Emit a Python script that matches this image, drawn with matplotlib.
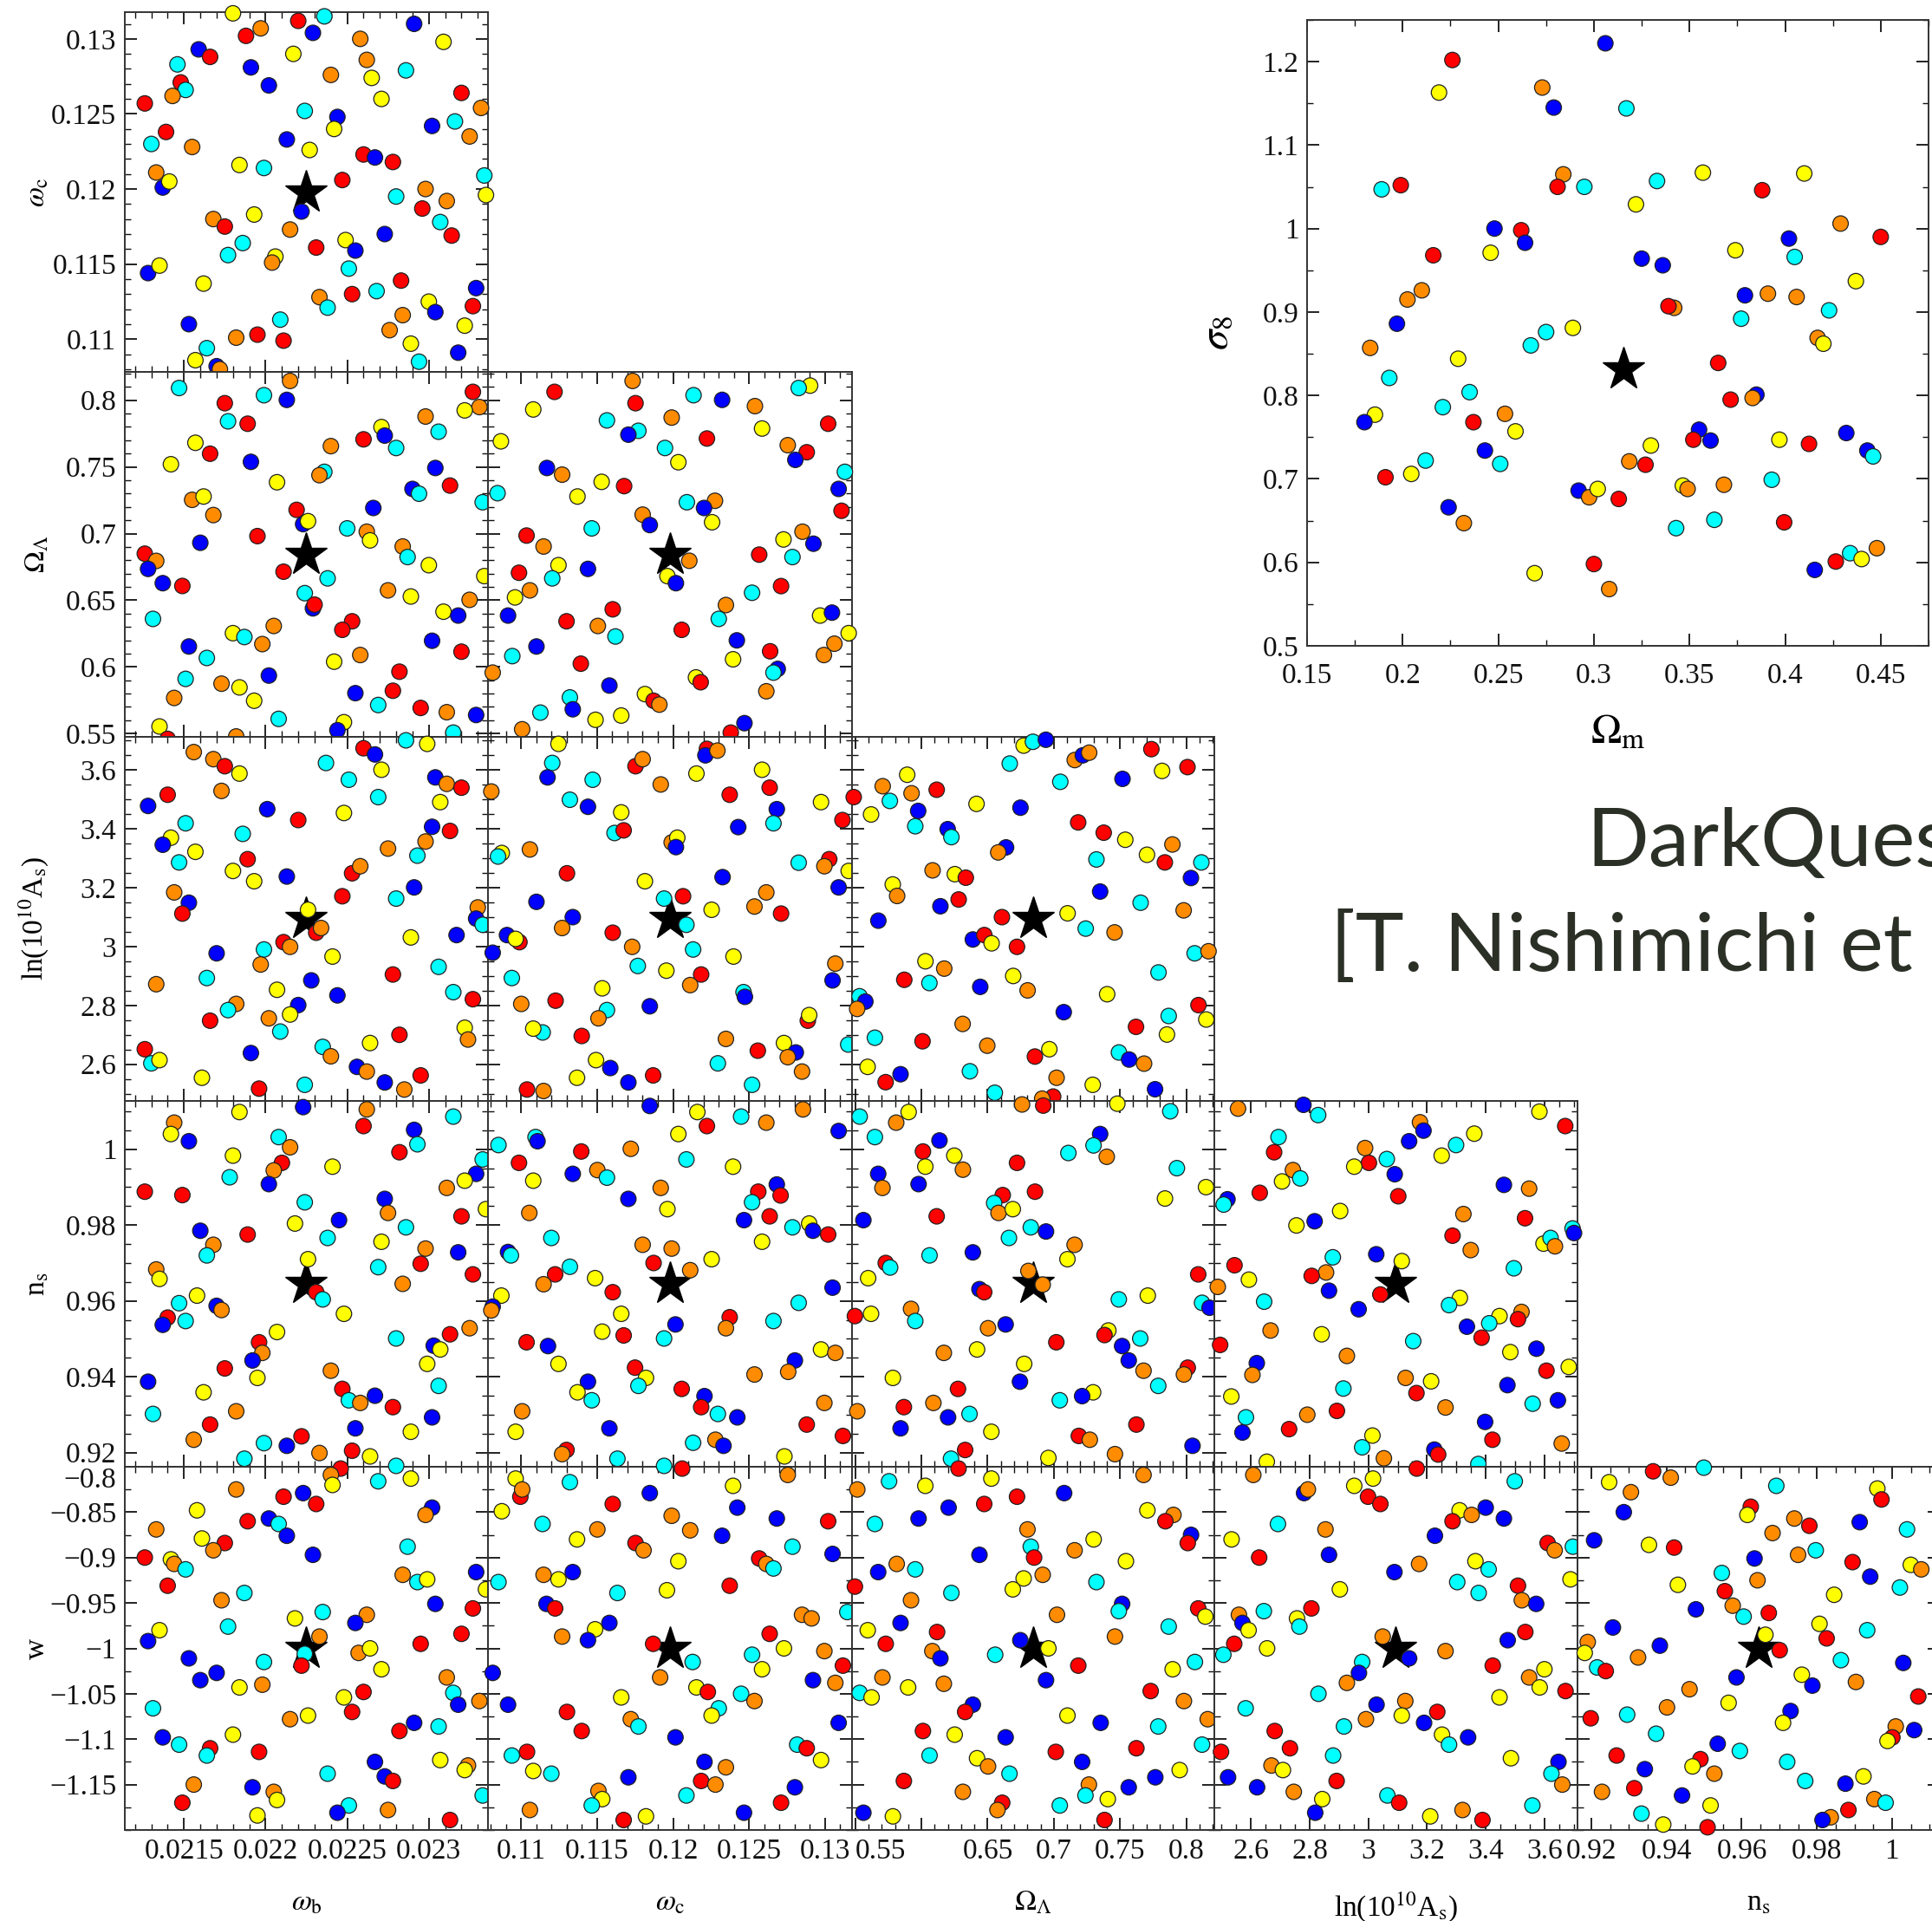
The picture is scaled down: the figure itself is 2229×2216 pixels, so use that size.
import matplotlib
matplotlib.use('Agg')
import matplotlib.pyplot as plt
from matplotlib.ticker import MultipleLocator

plt.rcParams['font.family'] = ['Liberation Serif', 'DejaVu Serif']
plt.rcParams['mathtext.fontset'] = 'stix'

# colour codes of the design points
colors = {'r': '#ff0000', 'o': '#ff8c00', 'y': '#ffff00', 'c': '#00ffff', 'b': '#0000ff'}

# parameter ranges of the sampling box, fiducial cosmology
ranges = {'wb': (0.0211375, 0.0233625), 'wc': (0.10782, 0.13178),
          'ol': (0.54752, 0.82128), 'las': (2.4752, 3.7128),
          'ns': (0.916275, 1.012725), 'w': (-1.2, -0.8)}
fiducial = {'wb': 0.02225, 'wc': 0.1198, 'ol': 0.6844, 'las': 3.094, 'ns': 0.9645, 'w': -1.0}
fid_om_s8 = (0.3156, 0.831)

names = {'wb': r'$\omega_{\rm b}$', 'wc': r'$\omega_{\rm c}$', 'ol': r'$\Omega_\Lambda$',
         'las': r'ln(10$^{10}$A$_{\rm s}$)', 'ns': r'n$_{\rm s}$', 'w': 'w'}
ticks = {'wb': [0.0215, 0.022, 0.0225, 0.023],
         'wc': [0.11, 0.115, 0.12, 0.125, 0.13],
         'ol': [0.55, 0.6, 0.65, 0.7, 0.75, 0.8],
         'las': [2.6, 2.8, 3.0, 3.2, 3.4, 3.6],
         'ns': [0.92, 0.94, 0.96, 0.98, 1.0],
         'w': [-1.15, -1.1, -1.05, -1.0, -0.95, -0.9, -0.85, -0.8]}
tick_labels = {'wb': ['0.0215', '0.022', '0.0225', '0.023'],
               'wc': ['0.11', '0.115', '0.12', '0.125', '0.13'],
               'ol': ['0.55', '0.6', '0.65', '0.7', '0.75', '0.8'],
               'las': ['2.6', '2.8', '3', '3.2', '3.4', '3.6'],
               'ns': ['0.92', '0.94', '0.96', '0.98', '1'],
               'w': ['\u22121.15', '\u22121.1', '\u22121.05', '\u22121', '\u22120.95',
                     '\u22120.9', '\u22120.85', '\u22120.8']}
bottom_labels_ol = ['0.55', '', '0.65', '0.7', '0.75', '0.8']
minor = {'wb': 0.0001, 'wc': 0.001, 'ol': 0.01, 'las': 0.05, 'ns': 0.005, 'w': 0.025}

# ---- design points per panel, (x, y, colour) ----
wb_wc = [
    (0.02180, 0.1317, 'y'), (0.02220, 0.1312, 'r'), (0.02236, 0.1315, 'c'), (0.02229, 0.1304, 'b'),
    (0.02197, 0.1307, 'o'), (0.02188, 0.1302, 'r'), (0.02291, 0.1310, 'b'), (0.02258, 0.1300, 'o'),
    (0.02309, 0.1298, 'y'), (0.02159, 0.1293, 'b'), (0.02166, 0.1288, 'r'), (0.02146, 0.1283, 'c'),
    (0.02217, 0.1290, 'y'), (0.02191, 0.1281, 'b'), (0.02262, 0.1286, 'o'), (0.02286, 0.1279, 'c'),
    (0.02240, 0.1276, 'o'), (0.02265, 0.1274, 'y'), (0.02148, 0.1271, 'r'), (0.02151, 0.1266, 'c'),
    (0.02143, 0.1262, 'o'), (0.02202, 0.1269, 'b'), (0.02271, 0.1260, 'y'), (0.02320, 0.1264, 'r'),
    (0.02126, 0.1257, 'r'), (0.02332, 0.1254, 'o'), (0.02224, 0.1252, 'c'), (0.02244, 0.1248, 'b'),
    (0.02242, 0.1240, 'y'), (0.02302, 0.1242, 'b'), (0.02316, 0.1245, 'c'), (0.02325, 0.1235, 'o'),
    (0.02139, 0.1238, 'r'), (0.02130, 0.1230, 'c'), (0.02155, 0.1228, 'o'), (0.02213, 0.1233, 'b'),
    (0.02227, 0.1226, 'y'), (0.02260, 0.1223, 'r'), (0.02267, 0.1221, 'b'), (0.02278, 0.1218, 'r'),
    (0.02184, 0.1216, 'y'), (0.02199, 0.1214, 'c'), (0.02133, 0.1211, 'o'), (0.02137, 0.1201, 'b'),
    (0.02141, 0.1205, 'y'), (0.02247, 0.1206, 'r'), (0.02334, 0.1209, 'c'), (0.02335, 0.1196, 'y'),
    (0.02280, 0.1195, 'c'), (0.02298, 0.1200, 'o'), (0.02311, 0.1192, 'o'), (0.02296, 0.1187, 'r'),
    (0.02222, 0.1185, 'b'), (0.02168, 0.1180, 'o'), (0.02175, 0.1175, 'r'), (0.02193, 0.1183, 'y'),
    (0.02215, 0.1173, 'o'), (0.02307, 0.1178, 'c'), (0.02314, 0.1169, 'r'), (0.02273, 0.1170, 'b'),
    (0.02186, 0.1164, 'c'), (0.02177, 0.1156, 'c'), (0.02231, 0.1161, 'r'), (0.02249, 0.1166, 'y'),
    (0.02255, 0.1159, 'b'), (0.02206, 0.1155, 'y'), (0.02204, 0.1151, 'o'), (0.02251, 0.1147, 'c'),
    (0.02128, 0.1144, 'b'), (0.02135, 0.1149, 'y'), (0.02162, 0.1137, 'y'), (0.02283, 0.1139, 'r'),
    (0.02268, 0.1132, 'c'), (0.02233, 0.1128, 'o'), (0.02238, 0.1121, 'c'), (0.02253, 0.1130, 'r'),
    (0.02329, 0.1134, 'b'), (0.02300, 0.1125, 'y'), (0.02304, 0.1118, 'b'), (0.02327, 0.1122, 'r'),
    (0.02284, 0.1116, 'o'), (0.02153, 0.1110, 'b'), (0.02209, 0.1113, 'c'), (0.02276, 0.1106, 'o'),
    (0.02322, 0.1109, 'y'), (0.02182, 0.1101, 'o'), (0.02195, 0.1103, 'r'), (0.02211, 0.1099, 'r'),
    (0.02289, 0.1097, 'y'), (0.02318, 0.1091, 'b'), (0.02164, 0.1094, 'c'), (0.02157, 0.1086, 'y'),
    (0.02294, 0.1085, 'c'), (0.02170, 0.1082, 'b'), (0.02172, 0.1080, 'o'),
]

wb_ol = [
    (0.02147, 0.8092, 'c'), (0.02215, 0.8145, 'o'), (0.02199, 0.8038, 'c'), (0.02213, 0.8003, 'b'),
    (0.02175, 0.7978, 'r'), (0.02177, 0.7842, 'c'), (0.02189, 0.7824, 'r'), (0.02327, 0.8063, 'r'),
    (0.02331, 0.7949, 'o'), (0.02322, 0.7924, 'y'), (0.02298, 0.7878, 'o'), (0.02306, 0.7764, 'c'),
    (0.02271, 0.7799, 'y'), (0.02273, 0.7735, 'b'), (0.02260, 0.7707, 'r'), (0.02280, 0.7642, 'c'),
    (0.02157, 0.7681, 'y'), (0.02240, 0.7656, 'o'), (0.02166, 0.7599, 'r'), (0.02191, 0.7538, 'b'),
    (0.02142, 0.7520, 'y'), (0.02236, 0.7463, 'c'), (0.02233, 0.7438, 'o'), (0.02304, 0.7492, 'b'),
    (0.02207, 0.7385, 'y'), (0.02313, 0.7360, 'r'), (0.02290, 0.7335, 'b'), (0.02294, 0.7299, 'c'),
    (0.02155, 0.7253, 'o'), (0.02162, 0.7278, 'y'), (0.02333, 0.7235, 'c'), (0.02168, 0.7139, 'o'),
    (0.02266, 0.7192, 'b'), (0.02219, 0.7178, 'r'), (0.02223, 0.7071, 'b'), (0.02226, 0.7093, 'y'),
    (0.02250, 0.7039, 'c'), (0.02262, 0.7014, 'o'), (0.02264, 0.6949, 'y'), (0.02195, 0.6981, 'r'),
    (0.02160, 0.6931, 'b'), (0.02284, 0.6903, 'o'), (0.02287, 0.6824, 'c'), (0.02126, 0.6849, 'r'),
    (0.02133, 0.6795, 'o'), (0.02128, 0.6735, 'b'), (0.02137, 0.6628, 'b'), (0.02149, 0.6607, 'r'),
    (0.02211, 0.6714, 'r'), (0.02238, 0.6664, 'c'), (0.02300, 0.6763, 'y'), (0.02334, 0.6681, 'y'),
    (0.02224, 0.6553, 'c'), (0.02275, 0.6574, 'o'), (0.02289, 0.6528, 'y'), (0.02229, 0.6439, 'b'),
    (0.02230, 0.6467, 'r'), (0.02325, 0.6503, 'o'), (0.02309, 0.6414, 'y'), (0.02318, 0.6385, 'b'),
    (0.02131, 0.6360, 'c'), (0.02253, 0.6342, 'r'), (0.02247, 0.6278, 'r'), (0.02205, 0.6307, 'o'),
    (0.02180, 0.6253, 'y'), (0.02187, 0.6224, 'c'), (0.02198, 0.6171, 'o'), (0.02153, 0.6153, 'b'),
    (0.02164, 0.6067, 'c'), (0.02302, 0.6196, 'b'), (0.02320, 0.6114, 'r'), (0.02258, 0.6089, 'o'),
    (0.02242, 0.6039, 'y'), (0.02282, 0.5964, 'r'), (0.02202, 0.5935, 'b'), (0.02151, 0.5910, 'c'),
    (0.02173, 0.5874, 'o'), (0.02184, 0.5846, 'y'), (0.02278, 0.5821, 'r'), (0.02255, 0.5803, 'b'),
    (0.02144, 0.5767, 'o'), (0.02193, 0.5746, 'y'), (0.02269, 0.5714, 'c'), (0.02295, 0.5692, 'r'),
    (0.02311, 0.5660, 'o'), (0.02329, 0.5639, 'b'), (0.02208, 0.5610, 'c'), (0.02248, 0.5585, 'y'),
    (0.02244, 0.5525, 'b'), (0.02135, 0.5553, 'y'), (0.02140, 0.5460, 'r'), (0.02182, 0.5478, 'o'),
    (0.02315, 0.5507, 'c'),
]

wc_ol = [
    (0.11734, 0.8145, 'o'), (0.12902, 0.8110, 'y'), (0.12827, 0.8092, 'c'), (0.11220, 0.8063, 'r'),
    (0.12135, 0.8038, 'c'), (0.12323, 0.8003, 'b'), (0.11753, 0.7978, 'r'), (0.12539, 0.7956, 'o'),
    (0.11080, 0.7931, 'y'), (0.13021, 0.7824, 'r'), (0.11565, 0.7849, 'c'), (0.11991, 0.7870, 'o'),
    (0.11772, 0.7771, 'c'), (0.11706, 0.7742, 'b'), (0.12586, 0.7788, 'y'), (0.12223, 0.7713, 'r'),
    (0.10867, 0.7692, 'y'), (0.11947, 0.7642, 'c'), (0.12755, 0.7663, 'o'), (0.12880, 0.7610, 'r'),
    (0.12805, 0.7553, 'b'), (0.12035, 0.7535, 'y'), (0.11170, 0.7492, 'b'), (0.11270, 0.7442, 'o'),
    (0.13131, 0.7463, 'c'), (0.11530, 0.7388, 'y'), (0.11678, 0.7356, 'r'), (0.13090, 0.7335, 'b'),
    (0.10845, 0.7303, 'c'), (0.11371, 0.7278, 'y'), (0.12276, 0.7246, 'o'), (0.12091, 0.7235, 'c'),
    (0.12204, 0.7192, 'b'), (0.13109, 0.7171, 'r'), (0.11800, 0.7142, 'o'), (0.12257, 0.7085, 'y'),
    (0.11847, 0.7064, 'b'), (0.11465, 0.7039, 'c'), (0.12852, 0.7014, 'o'), (0.11036, 0.6985, 'r'),
    (0.12727, 0.6956, 'y'), (0.12924, 0.6924, 'b'), (0.11148, 0.6903, 'o'), (0.12567, 0.6842, 'r'),
    (0.12786, 0.6824, 'c'), (0.12107, 0.6796, 'o'), (0.11246, 0.6763, 'y'), (0.11440, 0.6735, 'b'),
    (0.10986, 0.6706, 'r'), (0.11963, 0.6681, 'y'), (0.12019, 0.6628, 'b'), (0.11205, 0.6664, 'c'),
    (0.11058, 0.6574, 'o'), (0.12711, 0.6606, 'r'), (0.12520, 0.6556, 'c'), (0.10960, 0.6521, 'y'),
    (0.12348, 0.6464, 'o'), (0.11603, 0.6432, 'r'), (0.12968, 0.6385, 'y'), (0.13046, 0.6407, 'b'),
    (0.10914, 0.6385, 'b'), (0.12301, 0.6360, 'c'), (0.11299, 0.6342, 'r'), (0.11505, 0.6307, 'o'),
    (0.12057, 0.6278, 'r'), (0.11621, 0.6228, 'c'), (0.12420, 0.6199, 'b'), (0.13156, 0.6253, 'y'),
    (0.13062, 0.6174, 'o'), (0.11101, 0.6153, 'b'), (0.12639, 0.6117, 'r'), (0.12993, 0.6089, 'o'),
    (0.10942, 0.6081, 'c'), (0.12395, 0.6057, 'y'), (0.11393, 0.6024, 'r'), (0.12689, 0.5985, 'b'),
    (0.12661, 0.5957, 'c'), (0.10813, 0.5957, 'o'), (0.12151, 0.5921, 'y'), (0.12182, 0.5885, 'r'),
    (0.11581, 0.5860, 'b'), (0.12614, 0.5817, 'o'), (0.11815, 0.5796, 'y'), (0.11872, 0.5746, 'r'),
    (0.11910, 0.5717, 'o'), (0.11321, 0.5771, 'c'), (0.11340, 0.5682, 'b'), (0.11127, 0.5657, 'c'),
    (0.11659, 0.5635, 'y'), (0.11490, 0.5603, 'y'), (0.12470, 0.5578, 'b'), (0.11007, 0.5532, 'o'),
    (0.12380, 0.5507, 'r'),
]

wb_las = [
    (0.02156, 3.661, 'o'), (0.02168, 3.637, 'o'), (0.02175, 3.613, 'r'), (0.02184, 3.588, 'y'),
    (0.02237, 3.624, 'c'), (0.02260, 3.674, 'r'), (0.02267, 3.653, 'b'), (0.02271, 3.601, 'y'),
    (0.02286, 3.701, 'c'), (0.02299, 3.689, 'y'), (0.02251, 3.567, 'c'), (0.02304, 3.575, 'b'),
    (0.02311, 3.553, 'o'), (0.02320, 3.540, 'r'), (0.02307, 3.491, 'y'), (0.02173, 3.529, 'o'),
    (0.02140, 3.516, 'r'), (0.02128, 3.478, 'b'), (0.02269, 3.508, 'c'), (0.02201, 3.467, 'b'),
    (0.02248, 3.454, 'y'), (0.02220, 3.430, 'r'), (0.02151, 3.419, 'c'), (0.02302, 3.407, 'b'),
    (0.02313, 3.393, 'r'), (0.02186, 3.383, 'c'), (0.02142, 3.370, 'y'), (0.02137, 3.346, 'b'),
    (0.02157, 3.322, 'y'), (0.02275, 3.333, 'o'), (0.02298, 3.357, 'o'), (0.02293, 3.309, 'c'),
    (0.02189, 3.297, 'r'), (0.02147, 3.286, 'c'), (0.02180, 3.257, 'y'), (0.02253, 3.249, 'r'),
    (0.02258, 3.273, 'o'), (0.02213, 3.238, 'b'), (0.02193, 3.222, 'y'), (0.02291, 3.201, 'b'),
    (0.02144, 3.184, 'o'), (0.02247, 3.171, 'r'), (0.02280, 3.163, 'c'), (0.02153, 3.149, 'b'),
    (0.02149, 3.112, 'r'), (0.02330, 3.133, 'o'), (0.02329, 3.095, 'b'), (0.02333, 3.074, 'c'),
    (0.02231, 3.047, 'r'), (0.02234, 3.063, 'o'), (0.02211, 3.015, 'r'), (0.02215, 2.999, 'o'),
    (0.02289, 3.031, 'y'), (0.02317, 3.039, 'b'), (0.02170, 2.977, 'b'), (0.02199, 2.990, 'c'),
    (0.02241, 2.966, 'y'), (0.02197, 2.939, 'o'), (0.02306, 2.931, 'c'), (0.02133, 2.872, 'o'),
    (0.02164, 2.893, 'c'), (0.02278, 2.905, 'r'), (0.02228, 2.885, 'b'), (0.02207, 2.853, 'y'),
    (0.02315, 2.845, 'c'), (0.02244, 2.834, 'b'), (0.02327, 2.821, 'r'), (0.02182, 2.805, 'o'),
    (0.02177, 2.784, 'c'), (0.02220, 2.801, 'b'), (0.02215, 2.769, 'y'), (0.02202, 2.756, 'o'),
    (0.02166, 2.748, 'r'), (0.02209, 2.711, 'c'), (0.02282, 2.700, 'r'), (0.02322, 2.724, 'y'),
    (0.02324, 2.684, 'o'), (0.02235, 2.659, 'c'), (0.02240, 2.627, 'o'), (0.02264, 2.672, 'y'),
    (0.02126, 2.651, 'r'), (0.02130, 2.603, 'c'), (0.02135, 2.614, 'y'), (0.02191, 2.638, 'b'),
    (0.02256, 2.591, 'b'), (0.02262, 2.575, 'o'), (0.02273, 2.538, 'b'), (0.02295, 2.562, 'r'),
    (0.02285, 2.514, 'o'), (0.02161, 2.554, 'y'), (0.02196, 2.517, 'r'), (0.02224, 2.530, 'c'),
    (0.02226, 3.125, 'y'),
]

wc_las = [
    (0.11246, 3.689, 'y'), (0.11205, 3.624, 'c'), (0.11174, 3.575, 'b'), (0.11753, 3.613, 'r'),
    (0.11800, 3.637, 'o'), (0.11471, 3.567, 'c'), (0.11919, 3.551, 'o'), (0.12154, 3.588, 'y'),
    (0.12223, 3.672, 'r'), (0.12213, 3.650, 'b'), (0.12292, 3.666, 'o'), (0.12586, 3.601, 'y'),
    (0.12636, 3.540, 'r'), (0.12373, 3.516, 'r'), (0.10804, 3.527, 'o'), (0.11321, 3.499, 'c'),
    (0.11440, 3.475, 'b'), (0.11659, 3.456, 'y'), (0.11615, 3.386, 'c'), (0.11675, 3.395, 'r'),
    (0.12683, 3.467, 'b'), (0.12661, 3.419, 'c'), (0.12974, 3.491, 'y'), (0.13115, 3.430, 'r'),
    (0.12429, 3.406, 'b'), (0.11991, 3.354, 'o'), (0.12028, 3.370, 'y'), (0.12019, 3.338, 'b'),
    (0.11058, 3.330, 'o'), (0.10873, 3.318, 'y'), (0.10848, 3.306, 'c'), (0.13028, 3.297, 'r'),
    (0.12996, 3.273, 'o'), (0.13156, 3.257, 'y'), (0.12827, 3.285, 'c'), (0.11302, 3.249, 'r'),
    (0.12326, 3.236, 'b'), (0.11815, 3.222, 'y'), (0.12614, 3.184, 'o'), (0.13090, 3.201, 'b'),
    (0.11101, 3.152, 'b'), (0.11941, 3.163, 'c'), (0.12066, 3.171, 'r'), (0.12254, 3.125, 'y'),
    (0.12536, 3.136, 'o'), (0.12711, 3.112, 'r'), (0.11340, 3.100, 'b'), (0.12088, 3.074, 'c'),
    (0.11270, 3.063, 'o'), (0.10907, 3.039, 'b'), (0.10989, 3.015, 'r'), (0.10964, 3.026, 'y'),
    (0.11603, 3.047, 'r'), (0.11731, 2.999, 'o'), (0.12132, 2.990, 'c'), (0.12398, 2.966, 'y'),
    (0.13068, 2.942, 'o'), (0.12185, 2.905, 'r'), (0.12113, 2.869, 'o'), (0.11768, 2.934, 'c'),
    (0.11956, 2.918, 'y'), (0.13050, 2.885, 'b'), (0.10939, 2.893, 'c'), (0.10813, 2.979, 'b'),
    (0.11534, 2.858, 'y'), (0.12464, 2.845, 'c'), (0.12473, 2.829, 'b'), (0.11001, 2.805, 'o'),
    (0.11227, 2.816, 'r'), (0.11565, 2.784, 'c'), (0.11509, 2.756, 'o'), (0.11847, 2.797, 'b'),
    (0.12887, 2.748, 'r'), (0.12896, 2.767, 'y'), (0.11142, 2.708, 'c'), (0.11080, 2.721, 'y'),
    (0.11399, 2.696, 'r'), (0.12348, 2.686, 'o'), (0.13153, 2.667, 'c'), (0.12730, 2.672, 'y'),
    (0.12808, 2.640, 'b'), (0.12558, 2.646, 'r'), (0.12755, 2.624, 'o'), (0.11493, 2.614, 'y'),
    (0.11587, 2.587, 'b'), (0.12295, 2.603, 'c'), (0.12849, 2.575, 'o'), (0.11368, 2.554, 'y'),
    (0.11869, 2.562, 'r'), (0.11706, 2.538, 'b'), (0.11039, 2.514, 'r'), (0.11148, 2.509, 'o'),
    (0.12520, 2.530, 'c'),
]

ol_las = [
    (0.6772, 3.683, 'y'), (0.6842, 3.696, 'c'), (0.6940, 3.703, 'b'), (0.6667, 3.622, 'c'),
    (0.7158, 3.634, 'o'), (0.7219, 3.650, 'b'), (0.7267, 3.659, 'o'), (0.7737, 3.671, 'r'),
    (0.7818, 3.597, 'y'), (0.8010, 3.610, 'r'), (0.7049, 3.560, 'c'), (0.7519, 3.570, 'b'),
    (0.5892, 3.584, 'y'), (0.5707, 3.545, 'o'), (0.6115, 3.533, 'r'), (0.5925, 3.521, 'o'),
    (0.5761, 3.495, 'c'), (0.5488, 3.508, 'r'), (0.6416, 3.485, 'y'), (0.6748, 3.472, 'b'),
    (0.5975, 3.461, 'b'), (0.5619, 3.449, 'y'), (0.5953, 3.409, 'c'), (0.7184, 3.422, 'r'),
    (0.7377, 3.387, 'r'), (0.7540, 3.363, 'y'), (0.6198, 3.399, 'b'), (0.6226, 3.372, 'c'),
    (0.6639, 3.337, 'b'), (0.6580, 3.320, 'o'), (0.7896, 3.347, 'o'), (0.7704, 3.312, 'y'),
    (0.7839, 3.286, 'r'), (0.7322, 3.296, 'c'), (0.8115, 3.286, 'c'), (0.8036, 3.233, 'b'),
    (0.6084, 3.259, 'o'), (0.6252, 3.246, 'y'), (0.6335, 3.234, 'r'), (0.5783, 3.211, 'y'),
    (0.5816, 3.172, 'o'), (0.7350, 3.187, 'b'), (0.7656, 3.149, 'c'), (0.7981, 3.123, 'o'),
    (0.6143, 3.137, 'b'), (0.6281, 3.160, 'r'), (0.6608, 3.100, 'r'), (0.7104, 3.113, 'y'),
    (0.7241, 3.061, 'c'), (0.7459, 3.048, 'o'), (0.5674, 3.088, 'b'), (0.6388, 3.024, 'b'),
    (0.6475, 3.039, 'r'), (0.6530, 3.011, 'y'), (0.6722, 2.999, 'r'), (0.8064, 2.977, 'c'),
    (0.8169, 2.984, 'o'), (0.6030, 2.950, 'y'), (0.6172, 2.925, 'o'), (0.7791, 2.912, 'c'),
    (0.5870, 2.887, 'r'), (0.6060, 2.876, 'c'), (0.6693, 2.900, 'y'), (0.6444, 2.863, 'b'),
    (0.6802, 2.851, 'o'), (0.7403, 2.838, 'y'), (0.5532, 2.831, 'c'), (0.5576, 2.813, 'b'),
    (0.5514, 2.788, 'o'), (0.8093, 2.801, 'r'), (0.7075, 2.777, 'b'), (0.8152, 2.752, 'y'),
    (0.7868, 2.764, 'c'), (0.7621, 2.727, 'r'), (0.6311, 2.737, 'o'), (0.7855, 2.701, 'y'),
    (0.5648, 2.690, 'c'), (0.6008, 2.678, 'r'), (0.6497, 2.663, 'o'), (0.6857, 2.626, 'r'),
    (0.6966, 2.651, 'y'), (0.7492, 2.640, 'c'), (0.7569, 2.616, 'b'), (0.7682, 2.602, 'o'),
    (0.5593, 2.591, 'y'), (0.5842, 2.566, 'b'), (0.5729, 2.539, 'r'), (0.6366, 2.576, 'c'),
    (0.7021, 2.554, 'o'), (0.7294, 2.530, 'y'), (0.7765, 2.515, 'b'), (0.6554, 2.503, 'c'),
    (0.6995, 2.490, 'r'), (0.6912, 2.483, 'o'),
]

wb_ns = [
    (0.02184, 1.0098, 'y'), (0.02144, 1.0070, 'o'), (0.02142, 1.0040, 'y'), (0.02153, 1.0021, 'b'),
    (0.02223, 1.0111, 'b'), (0.02262, 1.0105, 'o'), (0.02315, 1.0086, 'c'), (0.02260, 1.0061, 'r'),
    (0.02291, 1.0051, 'b'), (0.02293, 1.0013, 'c'), (0.02208, 1.0032, 'c'), (0.02215, 1.0005, 'o'),
    (0.02282, 0.9992, 'r'), (0.02180, 0.9983, 'y'), (0.02333, 0.9973, 'c'), (0.02210, 0.9964, 'r'),
    (0.02241, 0.9954, 'y'), (0.02205, 0.9944, 'o'), (0.02329, 0.9935, 'b'), (0.02178, 0.9926, 'c'),
    (0.02322, 0.9917, 'y'), (0.02202, 0.9908, 'b'), (0.02311, 0.9898, 'o'), (0.02126, 0.9888, 'r'),
    (0.02149, 0.9879, 'r'), (0.02273, 0.9869, 'b'), (0.02224, 0.9860, 'c'), (0.02275, 0.9832, 'o'),
    (0.02335, 0.9842, 'y'), (0.02320, 0.9823, 'r'), (0.02245, 0.9813, 'b'), (0.02218, 0.9804, 'y'),
    (0.02286, 0.9794, 'c'), (0.02160, 0.9785, 'b'), (0.02189, 0.9775, 'r'), (0.02238, 0.9766, 'c'),
    (0.02271, 0.9756, 'y'), (0.02168, 0.9748, 'o'), (0.02298, 0.9738, 'o'), (0.02318, 0.9728, 'b'),
    (0.02164, 0.9720, 'c'), (0.02226, 0.9710, 'y'), (0.02295, 0.9698, 'r'), (0.02269, 0.9689, 'c'),
    (0.02133, 0.9683, 'o'), (0.02327, 0.9670, 'r'), (0.02135, 0.9658, 'y'), (0.02284, 0.9645, 'o'),
    (0.02231, 0.9623, 'r'), (0.02235, 0.9604, 'c'), (0.02158, 0.9614, 'y'), (0.02147, 0.9594, 'c'),
    (0.02170, 0.9587, 'b'), (0.02173, 0.9576, 'o'), (0.02248, 0.9566, 'y'), (0.02140, 0.9556, 'r'),
    (0.02151, 0.9547, 'c'), (0.02137, 0.9537, 'b'), (0.02325, 0.9528, 'o'), (0.02207, 0.9518, 'y'),
    (0.02313, 0.9512, 'r'), (0.02280, 0.9501, 'c'), (0.02196, 0.9491, 'r'), (0.02303, 0.9482, 'b'),
    (0.02307, 0.9472, 'y'), (0.02198, 0.9463, 'o'), (0.02192, 0.9443, 'b'), (0.02299, 0.9434, 'y'),
    (0.02175, 0.9422, 'r'), (0.02240, 0.9416, 'o'), (0.02195, 0.9397, 'y'), (0.02128, 0.9387, 'b'),
    (0.02306, 0.9376, 'c'), (0.02247, 0.9368, 'r'), (0.02162, 0.9359, 'y'), (0.02251, 0.9338, 'c'),
    (0.02258, 0.9331, 'o'), (0.02267, 0.9350, 'b'), (0.02278, 0.9320, 'r'), (0.02182, 0.9309, 'o'),
    (0.02131, 0.9302, 'c'), (0.02302, 0.9293, 'b'), (0.02166, 0.9274, 'r'), (0.02255, 0.9264, 'b'),
    (0.02289, 0.9255, 'y'), (0.02222, 0.9243, 'r'), (0.02156, 0.9234, 'o'), (0.02199, 0.9225, 'c'),
    (0.02213, 0.9218, 'b'), (0.02233, 0.9199, 'o'), (0.02253, 0.9205, 'r'), (0.02264, 0.9190, 'y'),
    (0.02187, 0.9184, 'c'),
]

wc_ns = [
    (0.12160, 1.0098, 'y'), (0.12448, 1.0086, 'c'), (0.12855, 1.0105, 'o'), (0.11847, 1.0114, 'b'),
    (0.12614, 1.0070, 'o'), (0.12223, 1.0061, 'r'), (0.13090, 1.0048, 'b'), (0.11095, 1.0032, 'c'),
    (0.11108, 1.0021, 'b'), (0.12035, 1.0040, 'y'), (0.10851, 1.0011, 'c'), (0.11722, 1.0001, 'o'),
    (0.11396, 0.9994, 'r'), (0.12088, 0.9973, 'c'), (0.10986, 0.9964, 'r'), (0.12395, 0.9954, 'y'),
    (0.11502, 0.9945, 'o'), (0.11340, 0.9935, 'b'), (0.11565, 0.9925, 'c'), (0.11080, 0.9917, 'y'),
    (0.12683, 0.9907, 'b'), (0.11919, 0.9898, 'o'), (0.12561, 0.9888, 'r'), (0.12708, 0.9878, 'r'),
    (0.11706, 0.9869, 'b'), (0.12520, 0.9860, 'c'), (0.11963, 0.9842, 'y'), (0.11054, 0.9832, 'o'),
    (0.12636, 0.9823, 'r'), (0.12467, 0.9813, 'b'), (0.12896, 0.9804, 'y'), (0.12786, 0.9794, 'c'),
    (0.12921, 0.9785, 'b'), (0.13021, 0.9775, 'r'), (0.11199, 0.9766, 'c'), (0.12586, 0.9756, 'y'),
    (0.11800, 0.9748, 'o'), (0.11991, 0.9738, 'o'), (0.10914, 0.9729, 'b'), (0.10933, 0.9720, 'c'),
    (0.12254, 0.9710, 'y'), (0.11872, 0.9700, 'r'), (0.11321, 0.9690, 'c'), (0.12113, 0.9681, 'o'),
    (0.11224, 0.9670, 'r'), (0.11487, 0.9660, 'y'), (0.11148, 0.9644, 'o'), (0.13050, 0.9635, 'b'),
    (0.11603, 0.9623, 'r'), (0.10870, 0.9614, 'y'), (0.12827, 0.9595, 'c'), (0.10813, 0.9585, 'b'),
    (0.10804, 0.9575, 'o'), (0.11659, 0.9566, 'y'), (0.12373, 0.9557, 'r'), (0.12661, 0.9547, 'c'),
    (0.12016, 0.9538, 'b'), (0.12348, 0.9528, 'o'), (0.11534, 0.9519, 'y'), (0.11675, 0.9509, 'r'),
    (0.11941, 0.9501, 'c'), (0.11036, 0.9491, 'r'), (0.11177, 0.9481, 'b'), (0.12974, 0.9472, 'y'),
    (0.13068, 0.9463, 'o'), (0.12802, 0.9443, 'b'), (0.11246, 0.9434, 'y'), (0.11750, 0.9424, 'r'),
    (0.12758, 0.9413, 'o'), (0.12536, 0.9406, 'o'), (0.11822, 0.9397, 'y'), (0.11440, 0.9387, 'b'),
    (0.11772, 0.9376, 'c'), (0.12057, 0.9368, 'r'), (0.11371, 0.9359, 'y'), (0.12207, 0.9349, 'b'),
    (0.11465, 0.9338, 'c'), (0.12996, 0.9331, 'o'), (0.12185, 0.9320, 'r'), (0.11007, 0.9309, 'o'),
    (0.12295, 0.9302, 'c'), (0.12423, 0.9293, 'b'), (0.12880, 0.9274, 'r'), (0.11581, 0.9264, 'b'),
    (0.10964, 0.9255, 'y'), (0.13118, 0.9244, 'r'), (0.12279, 0.9234, 'o'), (0.12132, 0.9226, 'c'),
    (0.12332, 0.9218, 'b'), (0.11299, 0.9207, 'r'), (0.11270, 0.9196, 'o'), (0.11634, 0.9184, 'c'),
    (0.12733, 0.9190, 'y'),
]

ol_ns = [
    (0.5533, 1.0086, 'c'), (0.5809, 1.0070, 'o'), (0.5903, 1.0098, 'y'), (0.5648, 1.0032, 'c'),
    (0.6136, 1.0023, 'b'), (0.6011, 0.9994, 'r'), (0.6248, 0.9983, 'y'), (0.6029, 0.9954, 'y'),
    (0.6313, 0.9946, 'o'), (0.6722, 0.9964, 'r'), (0.5673, 0.9935, 'b'), (0.5705, 0.9898, 'o'),
    (0.5978, 0.9908, 'b'), (0.6614, 0.9879, 'r'), (0.6858, 0.9888, 'r'), (0.6549, 0.9858, 'c'),
    (0.6582, 0.9832, 'o'), (0.6690, 0.9842, 'y'), (0.6115, 0.9823, 'r'), (0.5561, 0.9813, 'b'),
    (0.6826, 0.9794, 'c'), (0.6941, 0.9783, 'b'), (0.6661, 0.9766, 'c'), (0.7157, 0.9748, 'o'),
    (0.7103, 0.9710, 'y'), (0.6388, 0.9728, 'b'), (0.6061, 0.9720, 'c'), (0.5730, 0.9700, 'r'),
    (0.5763, 0.9688, 'c'), (0.5597, 0.9660, 'y'), (0.6808, 0.9679, 'o'), (0.6916, 0.9643, 'o'),
    (0.6438, 0.9631, 'b'), (0.6474, 0.9623, 'r'), (0.7491, 0.9604, 'c'), (0.7710, 0.9614, 'y'),
    (0.8091, 0.9670, 'r'), (0.8120, 0.9595, 'c'), (0.8177, 0.9582, 'b'), (0.5921, 0.9579, 'o'),
    (0.5953, 0.9547, 'c'), (0.5619, 0.9566, 'y'), (0.5497, 0.9560, 'r'), (0.6636, 0.9538, 'b'),
    (0.6503, 0.9528, 'o'), (0.7019, 0.9491, 'r'), (0.7412, 0.9522, 'y'), (0.7383, 0.9510, 'r'),
    (0.7653, 0.9501, 'c'), (0.7516, 0.9481, 'b'), (0.6420, 0.9472, 'y'), (0.6169, 0.9463, 'o'),
    (0.7566, 0.9443, 'b'), (0.6776, 0.9434, 'y'), (0.8012, 0.9424, 'r'), (0.7983, 0.9406, 'o'),
    (0.7678, 0.9416, 'o'), (0.6744, 0.9387, 'b'), (0.5784, 0.9397, 'y'), (0.7789, 0.9376, 'c'),
    (0.6276, 0.9368, 'r'), (0.7297, 0.9359, 'y'), (0.7214, 0.9349, 'b'), (0.7045, 0.9338, 'c'),
    (0.6090, 0.9331, 'o'), (0.5867, 0.9320, 'r'), (0.5515, 0.9309, 'o'), (0.6363, 0.9302, 'c'),
    (0.6201, 0.9293, 'b'), (0.7624, 0.9274, 'r'), (0.5842, 0.9264, 'b'), (0.6528, 0.9255, 'y'),
    (0.7189, 0.9244, 'r'), (0.7272, 0.9234, 'o'), (0.8048, 0.9218, 'b'), (0.6330, 0.9207, 'r'),
    (0.7462, 0.9196, 'o'), (0.6959, 0.9186, 'y'), (0.6223, 0.9184, 'c'), (0.6920, 1.0115, 'r'),
    (0.6760, 1.0118, 'o'), (0.7480, 1.0120, 'y'), (0.7880, 1.0100, 'c'), (0.7350, 1.0040, 'b'),
    (0.7300, 1.0010, 'c'), (0.7110, 0.9990, 'c'), (0.7400, 0.9980, 'o'), (0.7930, 0.9950, 'c'),
    (0.8150, 0.9900, 'y'), (0.7840, 0.9870, 'y'),
]

las_ns = [
    (2.556, 1.0107, 'o'), (2.779, 1.0117, 'b'), (2.829, 1.0090, 'c'), (3.583, 1.0099, 'y'),
    (3.671, 1.0061, 'r'), (3.176, 1.0071, 'o'), (3.188, 1.0049, 'b'), (3.139, 1.0021, 'b'),
    (3.299, 1.0011, 'c'), (3.361, 1.0041, 'y'), (3.250, 0.9983, 'y'), (2.694, 1.0032, 'c'),
    (2.679, 0.9992, 'r'), (2.989, 1.0003, 'o'), (3.002, 0.9964, 'r'), (2.952, 0.9954, 'y'),
    (3.063, 0.9974, 'c'), (3.090, 0.9934, 'b'), (2.743, 0.9945, 'o'), (2.768, 0.9923, 'c'),
    (2.706, 0.9915, 'y'), (2.630, 0.9885, 'r'), (2.520, 0.9868, 'b'), (2.507, 0.9854, 'c'),
    (3.102, 0.9876, 'r'), (3.462, 0.9906, 'b'), (3.548, 0.9896, 'o'), (2.904, 0.9837, 'y'),
    (2.755, 0.9799, 'y'), (2.817, 0.9810, 'b'), (3.324, 0.9829, 'o'), (3.534, 0.9818, 'r'),
    (3.287, 0.9772, 'r'), (3.349, 0.9734, 'o'), (3.696, 0.9791, 'c'), (3.701, 0.9779, 'b'),
    (3.597, 0.9751, 'y'), (3.621, 0.9766, 'c'), (3.636, 0.9744, 'o'), (3.027, 0.9723, 'b'),
    (3.114, 0.9705, 'y'), (2.879, 0.9715, 'c'), (2.544, 0.9694, 'r'), (2.856, 0.9675, 'o'),
    (2.807, 0.9666, 'r'), (3.496, 0.9686, 'c'), (2.593, 0.9656, 'y'), (2.487, 0.9637, 'o'),
    (2.866, 0.9627, 'b'), (3.041, 0.9617, 'r'), (2.645, 0.9598, 'c'), (2.967, 0.9578, 'b'),
    (3.312, 0.9608, 'y'), (3.275, 0.9589, 'c'), (3.522, 0.9571, 'o'), (3.510, 0.9552, 'r'),
    (3.447, 0.9560, 'y'), (3.412, 0.9541, 'c'), (3.336, 0.9532, 'b'), (3.386, 0.9503, 'r'),
    (2.495, 0.9484, 'r'), (2.667, 0.9522, 'o'), (2.841, 0.9512, 'y'), (3.153, 0.9494, 'c'),
    (3.573, 0.9474, 'b'), (3.484, 0.9465, 'y'), (2.927, 0.9455, 'o'), (2.620, 0.9436, 'b'),
    (2.605, 0.9405, 'o'), (3.607, 0.9416, 'r'), (3.683, 0.9426, 'y'), (3.127, 0.9397, 'o'),
    (3.214, 0.9388, 'y'), (3.164, 0.9357, 'r'), (3.474, 0.9378, 'b'), (2.915, 0.9369, 'c'),
    (2.533, 0.9348, 'y'), (3.646, 0.9338, 'b'), (3.560, 0.9329, 'c'), (3.263, 0.9319, 'o'),
    (2.893, 0.9310, 'r'), (2.792, 0.9300, 'o'), (2.583, 0.9293, 'c'), (2.730, 0.9262, 'r'),
    (2.571, 0.9253, 'b'), (3.398, 0.9281, 'b'), (3.423, 0.9234, 'r'), (3.659, 0.9224, 'o'),
    (3.014, 0.9245, 'y'), (2.979, 0.9214, 'c'), (3.053, 0.9185, 'o'), (3.225, 0.9208, 'b'),
    (3.238, 0.9195, 'r'), (2.654, 0.9176, 'y'), (3.375, 0.9170, 'c'), (3.164, 0.9147, 'r'),
]

wb_w = [
    (0.02246, -0.802, 'r'), (0.02240, -0.809, 'o'), (0.02241, -0.820, 'y'), (0.02280, -0.799, 'c'),
    (0.02269, -0.816, 'c'), (0.02289, -0.813, 'y'), (0.02182, -0.825, 'o'), (0.02223, -0.829, 'b'),
    (0.02211, -0.833, 'r'), (0.02231, -0.841, 'r'), (0.02158, -0.848, 'y'), (0.02302, -0.845, 'b'),
    (0.02298, -0.853, 'o'), (0.02189, -0.860, 'r'), (0.02202, -0.857, 'b'), (0.02208, -0.863, 'c'),
    (0.02133, -0.869, 'o'), (0.02213, -0.876, 'b'), (0.02161, -0.879, 'y'), (0.02175, -0.884, 'r'),
    (0.02168, -0.892, 'o'), (0.02229, -0.897, 'b'), (0.02126, -0.900, 'r'), (0.02142, -0.902, 'y'),
    (0.02144, -0.907, 'o'), (0.02151, -0.913, 'c'), (0.02287, -0.888, 'c'), (0.02284, -0.919, 'o'),
    (0.02293, -0.927, 'c'), (0.02299, -0.924, 'y'), (0.02329, -0.916, 'b'), (0.02140, -0.931, 'r'),
    (0.02335, -0.935, 'y'), (0.02187, -0.939, 'c'), (0.02173, -0.947, 'o'), (0.02304, -0.951, 'b'),
    (0.02327, -0.956, 'r'), (0.02262, -0.963, 'o'), (0.02255, -0.972, 'b'), (0.02218, -0.967, 'y'),
    (0.02235, -0.960, 'c'), (0.02177, -0.976, 'c'), (0.02135, -0.980, 'y'), (0.02233, -0.987, 'o'),
    (0.02320, -0.984, 'r'), (0.02128, -0.992, 'b'), (0.02295, -0.995, 'r'), (0.02224, -1.006, 'c'),
    (0.02257, -1.005, 'o'), (0.02264, -1.000, 'y'), (0.02153, -1.011, 'b'), (0.02222, -1.019, 'r'),
    (0.02199, -1.015, 'c'), (0.02271, -1.023, 'y'), (0.02170, -1.027, 'b'), (0.02160, -1.035, 'b'),
    (0.02311, -1.032, 'o'), (0.02184, -1.043, 'y'), (0.02198, -1.040, 'o'), (0.02260, -1.048, 'r'),
    (0.02248, -1.054, 'y'), (0.02315, -1.049, 'c'), (0.02318, -1.062, 'b'), (0.02331, -1.058, 'o'),
    (0.02131, -1.066, 'c'), (0.02253, -1.070, 'r'), (0.02226, -1.074, 'y'), (0.02215, -1.078, 'o'),
    (0.02291, -1.082, 'b'), (0.02282, -1.091, 'r'), (0.02306, -1.086, 'c'), (0.02137, -1.098, 'b'),
    (0.02180, -1.095, 'y'), (0.02147, -1.106, 'c'), (0.02166, -1.110, 'r'), (0.02164, -1.118, 'c'),
    (0.02196, -1.114, 'r'), (0.02307, -1.123, 'y'), (0.02267, -1.125, 'b'), (0.02324, -1.129, 'o'),
    (0.02322, -1.134, 'y'), (0.02238, -1.138, 'c'), (0.02273, -1.141, 'b'), (0.02278, -1.146, 'r'),
    (0.02156, -1.150, 'o'), (0.02192, -1.153, 'b'), (0.02205, -1.158, 'o'), (0.02207, -1.167, 'y'),
    (0.02149, -1.170, 'r'), (0.02251, -1.173, 'c'), (0.02333, -1.162, 'c'), (0.02275, -1.178, 'o'),
    (0.02195, -1.184, 'y'), (0.02244, -1.181, 'b'), (0.02313, -1.189, 'r'),
]

wc_w = [
    (0.12060, -0.802, 'r'), (0.11941, -0.799, 'c'), (0.10964, -0.813, 'y'), (0.12755, -0.809, 'o'),
    (0.11321, -0.817, 'c'), (0.10995, -0.833, 'r'), (0.11007, -0.825, 'o'), (0.11847, -0.829, 'b'),
    (0.12395, -0.821, 'y'), (0.11603, -0.841, 'r'), (0.12423, -0.845, 'b'), (0.10873, -0.849, 'y'),
    (0.11991, -0.854, 'o'), (0.12683, -0.857, 'b'), (0.13021, -0.860, 'r'), (0.11141, -0.863, 'c'),
    (0.12113, -0.870, 'o'), (0.11502, -0.869, 'o'), (0.12323, -0.876, 'b'), (0.11368, -0.880, 'y'),
    (0.11753, -0.884, 'r'), (0.11806, -0.892, 'o'), (0.12786, -0.888, 'c'), (0.13050, -0.896, 'b'),
    (0.12567, -0.901, 'r'), (0.12614, -0.907, 'o'), (0.12661, -0.912, 'c'), (0.12035, -0.904, 'y'),
    (0.11340, -0.916, 'b'), (0.11148, -0.919, 'o'), (0.11246, -0.924, 'y'), (0.10851, -0.927, 'c'),
    (0.12373, -0.931, 'r'), (0.11960, -0.936, 'y'), (0.11634, -0.939, 'c'), (0.11167, -0.951, 'b'),
    (0.11224, -0.956, 'r'), (0.12849, -0.963, 'o'), (0.12912, -0.967, 'o'), (0.13147, -0.960, 'c'),
    (0.11581, -0.972, 'b'), (0.11487, -0.979, 'y'), (0.11270, -0.987, 'o'), (0.11440, -0.991, 'b'),
    (0.11869, -0.995, 'r'), (0.12636, -0.984, 'r'), (0.12730, -1.000, 'y'), (0.12996, -1.003, 'o'),
    (0.12520, -1.007, 'c'), (0.12129, -1.015, 'c'), (0.13118, -1.019, 'r'), (0.12586, -1.023, 'y'),
    (0.10813, -1.027, 'b'), (0.11915, -1.032, 'o'), (0.12921, -1.035, 'b'), (0.13068, -1.038, 'o'),
    (0.12154, -1.043, 'y'), (0.12229, -1.048, 'r'), (0.12448, -1.050, 'c'), (0.11659, -1.054, 'y'),
    (0.12536, -1.058, 'o'), (0.10914, -1.062, 'b'), (0.12301, -1.066, 'c'), (0.11302, -1.070, 'r'),
    (0.12254, -1.074, 'y'), (0.11722, -1.078, 'o'), (0.11772, -1.086, 'c'), (0.13090, -1.082, 'b'),
    (0.11399, -1.091, 'r'), (0.12016, -1.098, 'b'), (0.12817, -1.106, 'c'), (0.12880, -1.110, 'r'),
    (0.11039, -1.114, 'r'), (0.10939, -1.118, 'c'), (0.12974, -1.123, 'y'), (0.12207, -1.125, 'b'),
    (0.12348, -1.131, 'o'), (0.11080, -1.135, 'y'), (0.11199, -1.138, 'c'), (0.11706, -1.142, 'b'),
    (0.12185, -1.146, 'r'), (0.12279, -1.150, 'o'), (0.12802, -1.153, 'b'), (0.11509, -1.157, 'o'),
    (0.11534, -1.166, 'y'), (0.11465, -1.173, 'c'), (0.12711, -1.170, 'r'), (0.12088, -1.162, 'c'),
    (0.11058, -1.178, 'o'), (0.12467, -1.181, 'b'), (0.11822, -1.185, 'y'), (0.11675, -1.189, 'r'),
]

ol_w = [
    (0.6280, -0.802, 'r'), (0.5755, -0.816, 'c'), (0.6029, -0.821, 'y'), (0.6528, -0.813, 'y'),
    (0.5515, -0.825, 'o'), (0.7678, -0.809, 'o'), (0.6474, -0.841, 'r'), (0.6722, -0.833, 'r'),
    (0.7078, -0.829, 'b'), (0.6205, -0.845, 'b'), (0.7707, -0.848, 'y'), (0.7904, -0.853, 'o'),
    (0.7843, -0.860, 'r'), (0.5978, -0.857, 'b'), (0.5648, -0.863, 'c'), (0.6801, -0.869, 'o'),
    (0.8037, -0.875, 'b'), (0.7301, -0.880, 'y'), (0.8012, -0.884, 'r'), (0.6826, -0.888, 'c'),
    (0.7157, -0.892, 'o'), (0.6438, -0.897, 'b'), (0.6851, -0.900, 'r'), (0.7545, -0.904, 'y'),
    (0.5813, -0.907, 'o'), (0.5953, -0.913, 'c'), (0.5673, -0.916, 'b'), (0.6916, -0.919, 'o'),
    (0.6772, -0.923, 'y'), (0.6690, -0.935, 'y'), (0.7322, -0.927, 'c'), (0.5497, -0.932, 'r'),
    (0.6226, -0.939, 'c'), (0.5921, -0.947, 'o'), (0.7516, -0.951, 'b'), (0.7491, -0.959, 'c'),
    (0.8091, -0.956, 'r'), (0.8145, -0.965, 'y'), (0.7024, -0.963, 'o'), (0.5842, -0.972, 'b'),
    (0.7868, -0.976, 'c'), (0.5594, -0.980, 'y'), (0.6118, -0.982, 'r'), (0.7462, -0.987, 'o'),
    (0.5730, -0.995, 'r'), (0.6747, -0.991, 'b'), (0.6959, -1.000, 'y'), (0.6082, -1.003, 'o'),
    (0.6143, -1.011, 'b'), (0.6557, -1.007, 'c'), (0.8066, -1.015, 'c'), (0.7185, -1.019, 'r'),
    (0.7898, -1.023, 'y'), (0.6941, -1.035, 'b'), (0.5705, -1.032, 'o'), (0.6169, -1.039, 'o'),
    (0.5899, -1.043, 'y'), (0.7732, -1.047, 'r'), (0.5533, -1.049, 'c'), (0.5623, -1.054, 'y'),
    (0.7983, -1.058, 'o'), (0.6388, -1.062, 'b'), (0.6330, -1.070, 'r'), (0.7103, -1.074, 'y'),
    (0.8163, -1.078, 'o'), (0.7354, -1.082, 'b'), (0.7789, -1.086, 'c'), (0.6011, -1.091, 'r'),
    (0.6251, -1.095, 'y'), (0.6636, -1.098, 'b'), (0.8120, -1.106, 'c'), (0.7624, -1.110, 'r'),
    (0.7015, -1.114, 'r'), (0.6061, -1.118, 'c'), (0.6420, -1.121, 'y'), (0.7214, -1.125, 'b'),
    (0.6503, -1.130, 'o'), (0.7951, -1.134, 'y'), (0.6665, -1.138, 'c'), (0.7767, -1.142, 'b'),
    (0.5867, -1.146, 'r'), (0.7265, -1.150, 'o'), (0.7566, -1.153, 'b'), (0.6313, -1.158, 'o'),
    (0.7239, -1.162, 'c'), (0.7408, -1.166, 'y'), (0.6610, -1.170, 'r'), (0.7045, -1.173, 'c'),
    (0.6574, -1.178, 'o'), (0.5561, -1.181, 'b'), (0.5784, -1.185, 'y'), (0.7383, -1.189, 'r'),
]

las_w = [
    (2.608, -0.809, 'o'), (2.781, -0.829, 'b'), (2.794, -0.825, 'o'), (2.952, -0.821, 'y'),
    (3.016, -0.813, 'y'), (3.165, -0.802, 'r'), (3.499, -0.816, 'c'), (2.999, -0.833, 'r'),
    (3.041, -0.841, 'r'), (3.311, -0.848, 'y'), (3.352, -0.853, 'o'), (3.400, -0.845, 'b'),
    (3.462, -0.857, 'b'), (3.287, -0.860, 'r'), (2.692, -0.863, 'c'), (2.854, -0.869, 'o'),
    (2.534, -0.880, 'y'), (3.227, -0.876, 'b'), (3.611, -0.884, 'r'), (3.635, -0.892, 'o'),
    (3.697, -0.888, 'c'), (2.866, -0.897, 'b'), (2.628, -0.900, 'r'), (3.365, -0.904, 'y'),
    (3.173, -0.907, 'o'), (3.410, -0.913, 'c'), (3.089, -0.916, 'b'), (3.689, -0.924, 'y'),
    (3.303, -0.927, 'c'), (3.510, -0.931, 'r'), (2.903, -0.935, 'y'), (3.376, -0.939, 'c'),
    (3.523, -0.947, 'o'), (3.572, -0.951, 'b'), (2.806, -0.956, 'r'), (2.644, -0.959, 'c'),
    (2.559, -0.963, 'o'), (2.757, -0.967, 'y'), (2.765, -0.976, 'c'), (2.571, -0.972, 'b'),
    (2.592, -0.980, 'y'), (3.535, -0.982, 'r'), (3.049, -0.987, 'o'), (3.475, -0.991, 'b'),
    (2.543, -0.995, 'r'), (2.655, -1.000, 'y'), (3.263, -1.003, 'o'), (2.506, -1.007, 'c'),
    (3.139, -1.011, 'b'), (2.979, -1.015, 'c'), (3.424, -1.019, 'r'), (3.600, -1.023, 'y'),
    (2.968, -1.027, 'b'), (3.548, -1.032, 'o'), (2.927, -1.038, 'o'), (3.584, -1.043, 'y'),
    (3.672, -1.047, 'r'), (2.830, -1.050, 'c'), (3.447, -1.054, 'y'), (3.126, -1.058, 'o'),
    (3.028, -1.062, 'b'), (2.582, -1.066, 'c'), (3.235, -1.070, 'r'), (3.114, -1.074, 'y'),
    (2.992, -1.078, 'o'), (3.190, -1.082, 'b'), (2.917, -1.086, 'c'), (2.681, -1.091, 'r'),
    (3.251, -1.095, 'y'), (3.340, -1.098, 'b'), (3.275, -1.106, 'c'), (2.733, -1.110, 'r'),
    (2.498, -1.114, 'r'), (2.880, -1.118, 'c'), (3.486, -1.121, 'y'), (3.648, -1.125, 'b'),
    (2.670, -1.129, 'o'), (2.709, -1.134, 'y'), (3.624, -1.138, 'c'), (2.522, -1.142, 'b'),
    (2.892, -1.146, 'r'), (3.661, -1.150, 'o'), (2.621, -1.153, 'b'), (2.746, -1.158, 'o'),
    (3.065, -1.162, 'c'), (2.843, -1.166, 'y'), (3.105, -1.170, 'r'), (3.559, -1.173, 'c'),
    (3.321, -1.178, 'o'), (2.819, -1.181, 'b'), (3.211, -1.185, 'y'), (3.389, -1.189, 'r'),
]

ns_w = [
    (0.9247, -0.817, 'y'), (0.9364, -0.805, 'r'), (0.9411, -0.812, 'o'), (0.9499, -0.801, 'c'),
    (0.9305, -0.828, 'o'), (0.9286, -0.850, 'b'), (0.9692, -0.821, 'c'), (0.9961, -0.824, 'y'),
    (0.9972, -0.836, 'r'), (0.9624, -0.844, 'r'), (0.9615, -0.853, 'y'), (0.9740, -0.857, 'o'),
    (0.9780, -0.865, 'r'), (0.9914, -0.861, 'b'), (1.0040, -0.869, 'c'), (0.9682, -0.873, 'o'),
    (0.9207, -0.881, 'b'), (0.9353, -0.886, 'y'), (0.9420, -0.889, 'r'), (0.9750, -0.897, 'o'),
    (0.9797, -0.892, 'c'), (0.9634, -0.901, 'b'), (0.9895, -0.905, 'r'), (1.0050, -0.908, 'y'),
    (1.0078, -0.913, 'o'), (0.9547, -0.917, 'c'), (0.9642, -0.925, 'o'), (0.9942, -0.921, 'b'),
    (1.0021, -0.933, 'c'), (0.9430, -0.930, 'y'), (0.9555, -0.937, 'r'), (0.9846, -0.941, 'y'),
    (0.9576, -0.953, 'o'), (0.9478, -0.957, 'b'), (0.9605, -0.965, 'c'), (0.9672, -0.961, 'r'),
    (0.9807, -0.973, 'y'), (0.9257, -0.977, 'b'), (0.9934, -0.980, 'c'), (0.9826, -0.989, 'r'),
    (0.9663, -0.985, 'y'), (0.9190, -0.993, 'o'), (0.9182, -1.005, 'y'), (0.9382, -0.997, 'b'),
    (0.9324, -1.010, 'o'), (0.9701, -1.002, 'r'), (0.9864, -1.013, 'c'), (1.0030, -1.016, 'b'),
    (0.9215, -1.021, 'c'), (0.9238, -1.025, 'r'), (0.9586, -1.032, 'b'), (0.9760, -1.029, 'y'),
    (0.9788, -1.041, 'b'), (0.9904, -1.037, 'o'), (0.9461, -1.045, 'o'), (1.0070, -1.053, 'r'),
    (0.9198, -1.077, 'r'), (0.9295, -1.073, 'c'), (0.9401, -1.065, 'o'), (0.9565, -1.060, 'y'),
    (0.9730, -1.069, 'b'), (0.9710, -1.082, 'y'), (1.0010, -1.086, 'o'), (1.0001, -1.098, 'r'),
    (0.9988, -1.102, 'y'), (1.0059, -1.090, 'b'), (0.9372, -1.094, 'c'), (0.9536, -1.105, 'b'),
    (0.9595, -1.113, 'c'), (0.9267, -1.118, 'r'), (0.9490, -1.122, 'r'), (0.9469, -1.130, 'y'),
    (0.9721, -1.125, 'c'), (0.9342, -1.133, 'b'), (0.9527, -1.138, 'o'), (0.9769, -1.146, 'c'),
    (0.9876, -1.149, 'b'), (0.9924, -1.141, 'y'), (0.9314, -1.154, 'r'), (0.9228, -1.158, 'o'),
    (0.9441, -1.162, 'b'), (0.9953, -1.166, 'o'), (0.9983, -1.170, 'c'), (0.9517, -1.173, 'y'),
    (0.9333, -1.182, 'c'), (0.9884, -1.178, 'r'), (0.9837, -1.186, 'o'), (0.9815, -1.189, 'b'),
    (0.9391, -1.194, 'y'), (0.9509, -1.197, 'r'),
]

om_s8 = [
    (0.226, 1.202, 'r'), (0.306, 1.222, 'b'), (0.219, 1.163, 'y'), (0.273, 1.169, 'o'),
    (0.279, 1.145, 'b'), (0.317, 1.144, 'c'), (0.189, 1.047, 'c'), (0.199, 1.052, 'r'),
    (0.284, 1.065, 'o'), (0.281, 1.050, 'r'), (0.295, 1.050, 'c'), (0.322, 1.029, 'y'),
    (0.333, 1.057, 'c'), (0.357, 1.067, 'y'), (0.388, 1.046, 'r'), (0.410, 1.066, 'y'),
    (0.429, 1.006, 'o'), (0.450, 0.990, 'r'), (0.248, 1.000, 'b'), (0.262, 0.998, 'r'),
    (0.264, 0.983, 'b'), (0.246, 0.971, 'y'), (0.216, 0.968, 'r'), (0.325, 0.964, 'b'),
    (0.336, 0.956, 'b'), (0.374, 0.974, 'y'), (0.402, 0.988, 'b'), (0.405, 0.966, 'c'),
    (0.437, 0.937, 'y'), (0.210, 0.926, 'o'), (0.2025, 0.915, 'o'), (0.197, 0.886, 'b'),
    (0.342, 0.905, 'o'), (0.339, 0.907, 'r'), (0.379, 0.920, 'b'), (0.391, 0.922, 'o'),
    (0.406, 0.918, 'o'), (0.423, 0.902, 'c'), (0.377, 0.892, 'c'), (0.417, 0.869, 'o'),
    (0.420, 0.862, 'y'), (0.183, 0.857, 'o'), (0.229, 0.844, 'y'), (0.267, 0.860, 'c'),
    (0.275, 0.876, 'c'), (0.289, 0.881, 'y'), (0.365, 0.839, 'r'), (0.193, 0.821, 'c'),
    (0.235, 0.804, 'c'), (0.1855, 0.777, 'y'), (0.180, 0.768, 'b'), (0.221, 0.786, 'c'),
    (0.237, 0.768, 'r'), (0.2535, 0.778, 'o'), (0.259, 0.757, 'y'), (0.243, 0.734, 'b'),
    (0.251, 0.718, 'c'), (0.212, 0.722, 'c'), (0.2045, 0.706, 'y'), (0.191, 0.702, 'r'),
    (0.224, 0.666, 'b'), (0.232, 0.647, 'o'), (0.3715, 0.795, 'r'), (0.385, 0.801, 'b'),
    (0.383, 0.797, 'o'), (0.355, 0.759, 'b'), (0.361, 0.746, 'b'), (0.352, 0.747, 'r'),
    (0.3298, 0.740, 'y'), (0.3185, 0.721, 'o'), (0.327, 0.717, 'r'), (0.292, 0.686, 'b'),
    (0.2975, 0.678, 'o'), (0.302, 0.688, 'y'), (0.313, 0.676, 'r'), (0.3465, 0.692, 'y'),
    (0.349, 0.688, 'o'), (0.368, 0.693, 'o'), (0.343, 0.641, 'c'), (0.363, 0.651, 'c'),
    (0.393, 0.699, 'c'), (0.397, 0.747, 'y'), (0.4125, 0.742, 'r'), (0.432, 0.755, 'b'),
    (0.443, 0.734, 'b'), (0.446, 0.727, 'c'), (0.3995, 0.648, 'r'), (0.4155, 0.591, 'b'),
    (0.4265, 0.601, 'r'), (0.434, 0.611, 'c'), (0.440, 0.604, 'y'), (0.448, 0.617, 'o'),
    (0.300, 0.598, 'r'), (0.308, 0.568, 'o'), (0.269, 0.587, 'y'),
]

# corner plot layout (pixels of the 2229x2216 canvas)
W, H = 2229, 2216
col_edges = [144, 563, 983, 1401, 1820, 2238]
row_edges = [14, 429, 850, 1270, 1692, 2111]
row_params = ['wc', 'ol', 'las', 'ns', 'w']
col_params = ['wb', 'wc', 'ol', 'las', 'ns']
panels = {('wb', 'wc'): wb_wc, ('wb', 'ol'): wb_ol, ('wc', 'ol'): wc_ol,
          ('wb', 'las'): wb_las, ('wc', 'las'): wc_las, ('ol', 'las'): ol_las,
          ('wb', 'ns'): wb_ns, ('wc', 'ns'): wc_ns, ('ol', 'ns'): ol_ns, ('las', 'ns'): las_ns,
          ('wb', 'w'): wb_w, ('wc', 'w'): wc_w, ('ol', 'w'): ol_w, ('las', 'w'): las_w,
          ('ns', 'w'): ns_w}

TICK_FS = 24
DOT = 165
STAR = 37
EDGE = '#222222'
SPINE = '#333333'

fig = plt.figure(figsize=(W / 100, H / 100), dpi=100)
fig.patch.set_facecolor('white')


def add_box(x0, y0, x1, y1):
    return fig.add_axes([x0 / W, 1 - y1 / H, (x1 - x0) / W, (y1 - y0) / H])


def style_ticks(ax):
    ax.tick_params(which='both', direction='in', top=True, right=True,
                   labelsize=TICK_FS, colors='#111111')
    ax.tick_params(which='major', length=10, width=1.3, pad=7)
    ax.tick_params(which='minor', length=5, width=1.0)
    for s in ax.spines.values():
        s.set_color(SPINE)
        s.set_linewidth(1.4)


for i, yp in enumerate(row_params):
    for j, xp in enumerate(col_params[:i + 1]):
        ax = add_box(col_edges[j], row_edges[i], col_edges[j + 1], row_edges[i + 1])
        pts = panels[(xp, yp)]
        ax.plot(fiducial[xp], fiducial[yp], marker='*', color='black', markersize=STAR,
                linestyle='none', zorder=2, clip_on=False)
        ax.scatter([p[0] for p in pts], [p[1] for p in pts],
                   c=[colors[p[2]] for p in pts], s=DOT, edgecolors=EDGE,
                   linewidths=0.9, zorder=3, clip_on=False)
        ax.set_xlim(*ranges[xp])
        ax.set_ylim(*ranges[yp])
        ax.set_xticks(ticks[xp])
        ax.set_yticks(ticks[yp])
        ax.xaxis.set_minor_locator(MultipleLocator(minor[xp]))
        ax.yaxis.set_minor_locator(MultipleLocator(minor[yp]))
        style_ticks(ax)
        if i == 4:
            ax.set_xticklabels(bottom_labels_ol if xp == 'ol' else tick_labels[xp])
            if xp == 'ol':
                # first label sits against the panel edge, shifted right as in the figure
                ax.get_xticklabels()[0].set_horizontalalignment('left')
            ax.set_xlabel(names[xp], fontsize=24)
            ax.xaxis.set_label_coords(0.5, -0.165)
        else:
            ax.set_xticklabels([])
        if j == 0:
            ax.set_yticklabels(tick_labels[yp])
            ax.set_ylabel(names[yp], fontsize=24)
            ax.yaxis.set_label_coords(-0.205, 0.5)
            if yp == 'w':
                ax.get_yticklabels()[-1].set_verticalalignment('top')
        else:
            ax.set_yticklabels([])

# Omega_m - sigma_8 panel
ax = add_box(1508, 23, 2225, 745)
ax.plot(*fid_om_s8, marker='*', color='black', markersize=STAR, linestyle='none', zorder=2)
ax.scatter([p[0] for p in om_s8], [p[1] for p in om_s8],
           c=[colors[p[2]] for p in om_s8], s=DOT, edgecolors=EDGE, linewidths=0.9, zorder=3)
ax.set_xlim(0.15, 0.475)
ax.set_ylim(0.5, 1.25)
ax.set_xticks([0.15, 0.2, 0.25, 0.3, 0.35, 0.4, 0.45])
ax.set_xticklabels(['0.15', '0.2', '0.25', '0.3', '0.35', '0.4', '0.45'])
ax.set_yticks([0.5, 0.6, 0.7, 0.8, 0.9, 1.0, 1.1, 1.2])
ax.set_yticklabels(['0.5', '0.6', '0.7', '0.8', '0.9', '1', '1.1', '1.2'])
ax.xaxis.set_minor_locator(MultipleLocator(0.025))
ax.yaxis.set_minor_locator(MultipleLocator(0.05))
style_ticks(ax)
ax.tick_params(axis='x', which='major', pad=14)
ax.set_xlabel(r'$\Omega_{\rm m}$', fontsize=34)
ax.xaxis.set_label_coords(0.5, -0.11)
ax.set_ylabel(r'$\sigma_8$', fontsize=34)
ax.yaxis.set_label_coords(-0.115, 0.5)

# reference text
fig.text(1830 / W, 1 - 999 / H, 'DarkQuest', fontsize=68, family=['Lato', 'DejaVu Sans'],
         color='#2b3027', ha='left', va='baseline')
fig.text(1535 / W, 1 - 1120 / H, '[T. Nishimichi et al.]', fontsize=68,
         family=['Lato', 'DejaVu Sans'], color='#2b3027', ha='left', va='baseline')

fig.savefig('out.png', dpi=100)
